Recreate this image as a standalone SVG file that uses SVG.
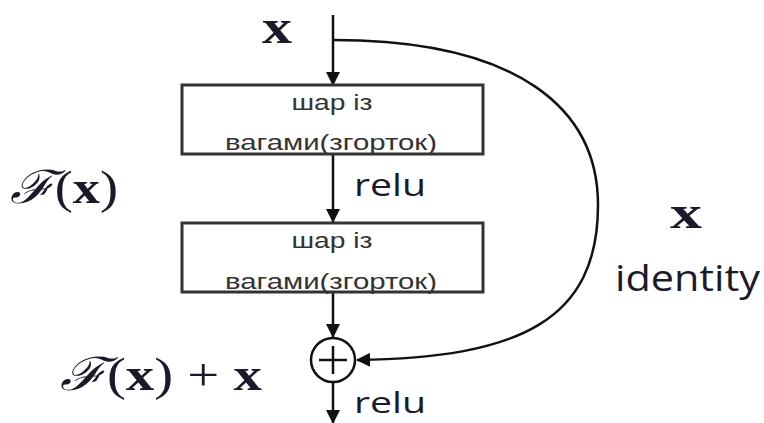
<svg xmlns="http://www.w3.org/2000/svg" width="764" height="423" viewBox="0 0 764 423">
<defs>
<marker id="ah" markerWidth="14" markerHeight="14" refX="13" refY="7" orient="auto" markerUnits="userSpaceOnUse" viewBox="0 0 14 14">
<path d="M0,0 L14,7 L0,14 Z" fill="#111"/>
</marker>
<style>
.box{fill:#fff;stroke:#333;stroke-width:3}
.bt{font-family:"Liberation Sans",Arial,sans-serif;font-size:22px;fill:#333;text-anchor:middle}
.edge{fill:none;stroke:#111;stroke-width:2.5}
.math{font-family:"Liberation Serif","DejaVu Serif",serif;fill:#1a1a2a}
.lab{font-family:"Open Sans","Noto Sans",sans-serif;fill:#1a1a2a}
</style>
</defs>
<rect width="764" height="423" fill="#fff"/>
<g id="connectors">
<path class="edge" d="M333,15 L333,85" marker-end="url(#ah)"/>
<path class="edge" d="M333,154 L333,222" marker-end="url(#ah)"/>
<path class="edge" d="M333,293 L333,337" marker-end="url(#ah)"/>
<path class="edge" d="M333,383 L333,423" marker-end="url(#ah)"/>
<path class="edge" d="M333,40 C520,40 598,110 598,205 C598,320 520,358 357,360" marker-end="url(#ah)"/>
</g>
<g id="box1">
<rect class="box" x="182" y="85" width="301" height="69"/>
<text class="bt" x="332" y="110" textLength="81" lengthAdjust="spacingAndGlyphs">шар із</text>
<text class="bt" x="331" y="150" textLength="212" lengthAdjust="spacingAndGlyphs">вагами(згорток)</text>
</g>
<g id="box2">
<rect class="box" x="182" y="223" width="301" height="69"/>
<text class="bt" x="332" y="248" textLength="81" lengthAdjust="spacingAndGlyphs">шар із</text>
<text class="bt" x="331" y="289" textLength="212" lengthAdjust="spacingAndGlyphs">вагами(згорток)</text>
</g>
<g id="add">
<circle cx="333" cy="360" r="22" fill="#fff" stroke="#111" stroke-width="2.5"/>
<path d="M319,360 H347 M333,346 V374" stroke="#111" stroke-width="2.5"/>
</g>
<g id="labels">
<text class="math" x="262" y="43" font-size="48" font-weight="bold" textLength="30" lengthAdjust="spacingAndGlyphs">x</text>
<text class="math" x="10" y="203" font-size="46" textLength="108" lengthAdjust="spacingAndGlyphs"><tspan font-style="italic" font-family="DejaVu Serif">ℱ</tspan>(<tspan font-weight="bold">x</tspan>)</text>
<text class="math" x="60" y="390" font-size="46" textLength="202" lengthAdjust="spacingAndGlyphs"><tspan font-style="italic" font-family="DejaVu Serif">ℱ</tspan>(<tspan font-weight="bold">x</tspan>) + <tspan font-weight="bold">x</tspan></text>
<text class="lab" x="354" y="196" font-size="31" textLength="72" lengthAdjust="spacingAndGlyphs">relu</text>
<text class="lab" x="354" y="413" font-size="30" textLength="72" lengthAdjust="spacingAndGlyphs">relu</text>
<text class="math" x="670" y="228" font-size="46" font-weight="bold" textLength="32" lengthAdjust="spacingAndGlyphs">x</text>
<text class="lab" x="615" y="291" font-size="37" textLength="145" lengthAdjust="spacingAndGlyphs">identity</text>
</g>
</svg>
